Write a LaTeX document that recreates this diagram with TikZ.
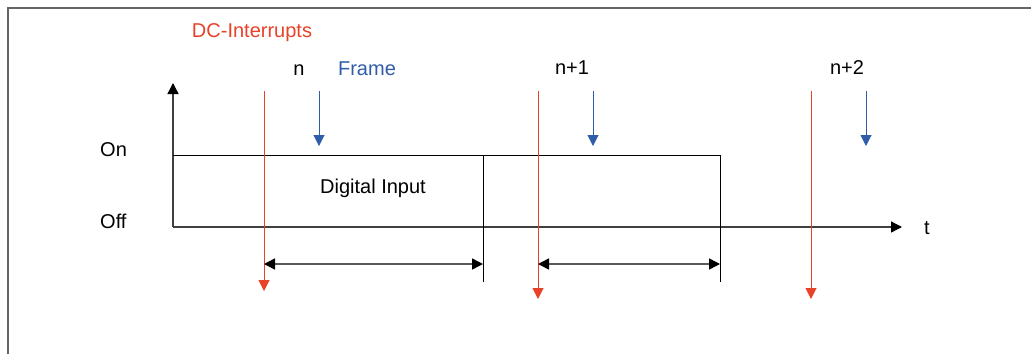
\documentclass[tikz,border=0pt]{standalone}
\usepackage{fontspec}
\setmainfont{Liberation Sans}
\usetikzlibrary{arrows.meta}
\definecolor{dcred}{RGB}{232,66,40}
\definecolor{frblue}{RGB}{47,93,170}
\definecolor{framegray}{RGB}{100,100,100}
\begin{document}
\begin{tikzpicture}[x=1pt,y=-1pt,
  lbl/.style={font=\fontsize{20}{24}\selectfont, inner sep=0pt, anchor=base},
  lblw/.style={lbl, anchor=base west},
  axisline/.style={draw=black!75, line width=1.3pt, -{Triangle[length=11pt,width=11pt,color=black]}},
  sigline/.style={draw=black, line width=1pt},
  irqline/.style={draw=dcred, line width=1pt, -{Triangle[length=11pt,width=11pt]}},
  frameline/.style={draw=frblue, line width=1pt, -{Triangle[length=11pt,width=11pt]}},
  spanline/.style={draw=black!65, line width=1.5pt, {Triangle[length=11pt,width=11pt,color=black]}-{Triangle[length=11pt,width=11pt,color=black]}}
]
\useasboundingbox (0,0) rectangle (1031,354);
% outer frame (top and left edges)
\coordinate (fbl) at (7.5,354);
\coordinate (ftl) at (7.5,7.5);
\coordinate (ftr) at (1031,7.5);
\draw[framegray, line width=2pt] (fbl) -- (ftl) -- (ftr);

% axes
\coordinate (O) at (173,227);
\coordinate (ytip) at (173,83);
\coordinate (xtip) at (902,227);
\draw[axisline] (O) -- (ytip);
\draw[axisline] (O) -- (xtip);

% signal
\coordinate (s0) at (173,155);
\coordinate (s1) at (483,155);
\coordinate (s2) at (720,155);
\coordinate (b1) at (483,282);
\coordinate (b2) at (720,282);
\draw[sigline] (s0) -- (s2) -- (b2);
\draw[sigline] (s1) -- (b1);

% DC interrupts
\coordinate (r1a) at (264,91);  \coordinate (r1b) at (264,291);
\coordinate (r2a) at (538,91);  \coordinate (r2b) at (538,299);
\coordinate (r3a) at (811,91);  \coordinate (r3b) at (811,299);
\draw[irqline] (r1a) -- (r1b);
\draw[irqline] (r2a) -- (r2b);
\draw[irqline] (r3a) -- (r3b);

% frames
\coordinate (f1a) at (319,91);  \coordinate (f1b) at (319,146);
\coordinate (f2a) at (593,91);  \coordinate (f2b) at (593,146);
\coordinate (f3a) at (866,91);  \coordinate (f3b) at (866,146);
\draw[frameline] (f1a) -- (f1b);
\draw[frameline] (f2a) -- (f2b);
\draw[frameline] (f3a) -- (f3b);

% spans
\coordinate (d1a) at (264,264); \coordinate (d1b) at (483,264);
\coordinate (d2a) at (538,264); \coordinate (d2b) at (720,264);
\draw[spanline] (d1a) -- (d1b);
\draw[spanline] (d2a) -- (d2b);

% labels
\node[lbl, text=dcred] (dcirq) at (252,37) {DC-Interrupts};
\node[lbl] (ln) at (299,75) {n};
\node[lbl, text=frblue] (lframe) at (367,75) {Frame};
\node[lbl] (ln1) at (572,74) {n+1};
\node[lbl] (ln2) at (847,74) {n+2};
\node[lblw] (lon) at (100,156) {On};
\node[lblw] (loff) at (100,228) {Off};
\node[lbl] (ldi) at (373,193) {Digital Input};
\node[lbl] (lt) at (927,234) {t};
\end{tikzpicture}
\end{document}
